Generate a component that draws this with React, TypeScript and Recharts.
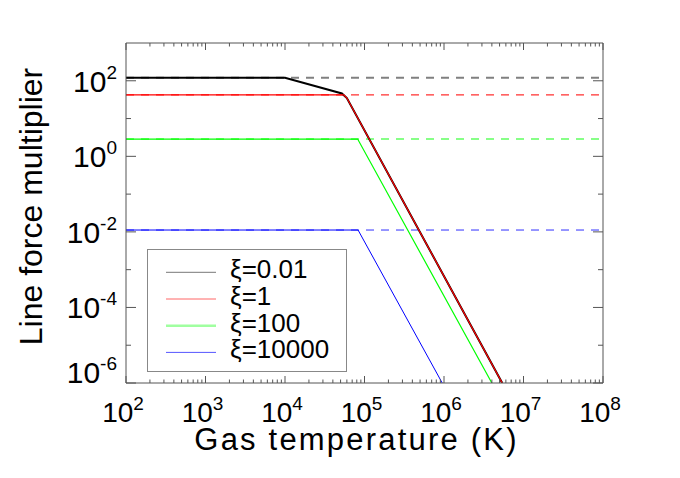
// Line force multiplier vs gas temperature, log-log, one curve per ionisation parameter

import React from 'react';
import { LineChart, Line, XAxis, YAxis, Legend, Label } from 'recharts';

// ---------------------------------------------------------------------------
// DATA
// ---------------------------------------------------------------------------

const tempDomain = [1e2, 1e8];
const multDomain = [1e-6, 1e3];

const tempDecades = [1e2, 1e3, 1e4, 1e5, 1e6, 1e7, 1e8];
const tempMinorSteps = [2, 3, 4, 5, 6, 7, 8, 9];
const multDecades = [1e-6, 1e-5, 1e-4, 1e-3, 1e-2, 1e-1, 1e0, 1e1, 1e2];
const multLabelled = [1e-6, 1e-4, 1e-2, 1e0, 1e2];

// solid curves (temperature K, multiplier)
const xi001 = [
  { t: 1e2, m: 120 },
  { t: 1e4, m: 120 },
  { t: 5.2e4, m: 46 },
  { t: 6e4, m: 35 },
  { t: 5.4e6, m: 1e-6 },
];
const xi1 = [
  { t: 1e2, m: 42.4 },
  { t: 5.5e4, m: 42.4 },
  { t: 6e4, m: 35 },
  { t: 5.4e6, m: 1e-6 },
];
const xi100 = [
  { t: 1e2, m: 2.87 },
  { t: 8.2e4, m: 2.87 },
  { t: 4e6, m: 1e-6 },
];
const xi10000 = [
  { t: 1e2, m: 0.0112 },
  { t: 8.3e4, m: 0.0112 },
  { t: 9.5e5, m: 1e-6 },
];

// dashed low-temperature limits
const limitLevels = [120, 42.4, 2.87, 0.0112];

const legendLabels = ['ξ=0.01', 'ξ=1', 'ξ=100', 'ξ=10000'];

// ---------------------------------------------------------------------------
// STYLE
// ---------------------------------------------------------------------------

const FONT = '"Liberation Sans", Arial, Helvetica, sans-serif';
const AXIS = '#555';
const solidColors = ['#000000', '#ff0000', '#00ff00', '#0000ff'];
const dashColors = ['#808080', '#ff3030', '#60ff60', '#3030ff'];
const dashWidths = [2, 1.2, 1.5, 1];
const legendColors = ['#777777', '#ff6666', '#a0ffa0', '#5555ff'];
const legendWidths = [1, 1, 2.5, 1];

const tempTicks = tempDecades.flatMap((d, i) =>
  i === tempDecades.length - 1 ? [d] : [d, ...tempMinorSteps.map((s) => s * d)]
);

const expOf = (v: number) => Math.round(Math.log10(v));

// ---------------------------------------------------------------------------
// TICKS (drawn inward, IDL style)
// ---------------------------------------------------------------------------

function BottomTick({ x, y, payload }: any) {
  const major = tempDecades.includes(payload.value);
  return (
    <g>
      <line x1={x} x2={x} y1={y} y2={y - (major ? 7 : 3.5)} stroke={AXIS} />
      {major && (
        <text x={x - 3} y={y + 38.7} textAnchor="middle" fontFamily={FONT} fontSize={28} fill="#000">
          10
          <tspan fontSize={19} dy={-11.7}>{expOf(payload.value)}</tspan>
        </text>
      )}
    </g>
  );
}

function TopTick({ x, y, payload }: any) {
  const major = tempDecades.includes(payload.value);
  return <line x1={x} x2={x} y1={y} y2={y + (major ? 7 : 3.5)} stroke={AXIS} />;
}

function LeftTick({ x, y, payload }: any) {
  const v = payload.value;
  const major = multLabelled.includes(v);
  const atBottom = v === multDomain[0];
  return (
    <g>
      <line x1={x} x2={x + (major ? 10 : 5)} y1={y} y2={y} stroke={AXIS} />
      {major && (
        <text x={x - 9} y={atBottom ? y : y + 11} textAnchor="end" fontFamily={FONT} fontSize={30} fill="#000">
          10
          <tspan fontSize={19} dy={-13}>{expOf(v)}</tspan>
        </text>
      )}
    </g>
  );
}

function RightTick({ x, y, payload }: any) {
  const major = multLabelled.includes(payload.value);
  return <line x1={x} x2={x - (major ? 10 : 5)} y1={y} y2={y} stroke={AXIS} />;
}

function XTitle({ viewBox }: any) {
  return (
    <text
      x={viewBox.x + viewBox.width / 2 - 8}
      y={viewBox.y + 67}
      textAnchor="middle"
      fontFamily={FONT}
      fontSize={31}
      letterSpacing={2.2}
      fill="#000"
    >
      Gas temperature (K)
    </text>
  );
}

function YTitle({ viewBox }: any) {
  const cx = viewBox.x + viewBox.width - 84;
  const cy = viewBox.y + viewBox.height / 2 - 6.5;
  return (
    <text
      x={cx}
      y={cy}
      transform={`rotate(-90, ${cx}, ${cy})`}
      textAnchor="middle"
      fontFamily={FONT}
      fontSize={32}
      fill="#000"
    >
      Line force multiplier
    </text>
  );
}

function LegendBox() {
  return (
    <svg width={200} height={123} style={{ display: 'block' }}>
      <rect x={0.5} y={0.5} width={199} height={122} fill="#fff" stroke="#888" />
      {legendLabels.map((label, i) => {
        const ly = 23.3 + i * 26.7;
        return (
          <g key={label}>
            <line x1={19} x2={69} y1={ly} y2={ly} stroke={legendColors[i]} strokeWidth={legendWidths[i]} />
            <text x={83} y={ly + 6} fontFamily={FONT} fontSize={26} fill="#000">
              {label}
            </text>
          </g>
        );
      })}
    </svg>
  );
}

// ---------------------------------------------------------------------------
// CHART
// ---------------------------------------------------------------------------

export default function App() {
  const solids = [xi001, xi1, xi100, xi10000];
  const limits = limitLevels.map((m) => tempDomain.map((t) => ({ t, m })));
  // draw order: blue, green, black, red (red sits on top of black where they overlap)
  const solidOrder = [3, 2, 0, 1];
  const solidWidths = [2, 1.2, 1.2, 1];

  return (
    <div style={{ position: 'absolute', left: 0, top: 0, background: '#fff' }}>
      <LineChart width={680} height={478} margin={{ top: 42, right: 76, bottom: 94, left: 125 }}>
        <XAxis
          xAxisId="b"
          dataKey="t"
          type="number"
          scale="log"
          domain={tempDomain}
          allowDataOverflow
          ticks={tempTicks}
          interval={0}
          height={1}
          tickSize={0}
          tickMargin={0}
          tickLine={false}
          axisLine={{ stroke: AXIS }}
          tick={<BottomTick />}
        >
          <Label content={<XTitle />} />
        </XAxis>
        <XAxis
          xAxisId="t"
          orientation="top"
          dataKey="t"
          type="number"
          scale="log"
          domain={tempDomain}
          allowDataOverflow
          ticks={tempTicks}
          interval={0}
          height={1}
          tickSize={0}
          tickMargin={0}
          tickLine={false}
          axisLine={{ stroke: AXIS }}
          tick={<TopTick />}
        />
        <YAxis
          yAxisId="l"
          dataKey="m"
          type="number"
          scale="log"
          domain={multDomain}
          allowDataOverflow
          ticks={multDecades}
          interval={0}
          width={1}
          tickSize={0}
          tickMargin={0}
          tickLine={false}
          axisLine={{ stroke: AXIS }}
          tick={<LeftTick />}
        >
          <Label content={<YTitle />} />
        </YAxis>
        <YAxis
          yAxisId="r"
          orientation="right"
          dataKey="m"
          type="number"
          scale="log"
          domain={multDomain}
          allowDataOverflow
          ticks={multDecades}
          interval={0}
          width={1}
          tickSize={0}
          tickMargin={0}
          tickLine={false}
          axisLine={{ stroke: AXIS }}
          tick={<RightTick />}
        />

        {limits.map((pts, i) => (
          <Line
            key={`lim-${i}`}
            xAxisId="t"
            yAxisId="r"
            data={pts}
            dataKey="m"
            type="linear"
            stroke={dashColors[i]}
            strokeWidth={dashWidths[i]}
            strokeDasharray="8 7"
            dot={false}
            activeDot={false}
            isAnimationActive={false}
          />
        ))}

        {solidOrder.map((i) => (
          <Line
            key={`xi-${i}`}
            xAxisId="b"
            yAxisId="l"
            data={solids[i]}
            dataKey="m"
            type="linear"
            stroke={solidColors[i]}
            strokeWidth={solidWidths[i]}
            dot={false}
            activeDot={false}
            isAnimationActive={false}
          />
        ))}

        <Legend
          layout="vertical"
          align="center"
          verticalAlign="middle"
          wrapperStyle={{ left: 147, top: 249, width: 200, height: 123 }}
          content={() => <LegendBox />}
        />
      </LineChart>
    </div>
  );
}
